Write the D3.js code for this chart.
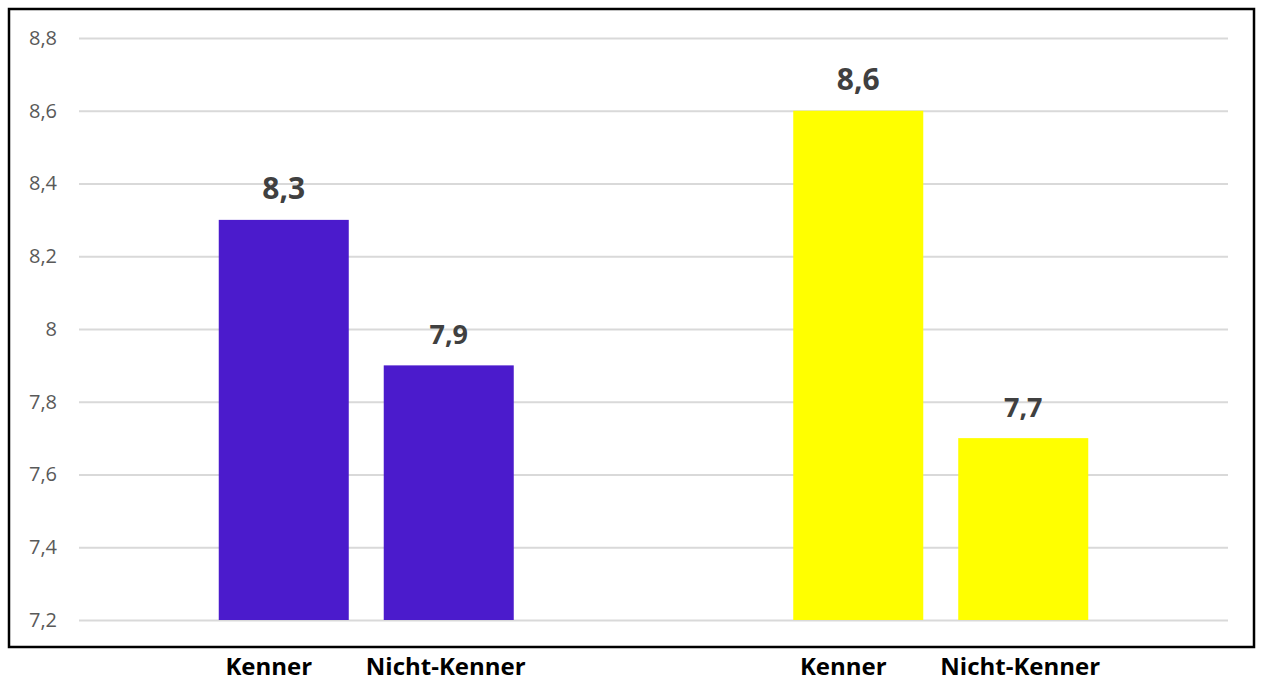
<!DOCTYPE html>
<html>
<head>
    <script src="https://cdn.jsdelivr.net/npm/d3@7/dist/d3.min.js"></script>
    <style>
        html, body {
            padding: 0;
            margin: 0;
            background: #fff;
        }
    </style>
</head>
<body>
<script>
    var width = 1261, height = 681;

    // data
    var groups = ["Gruppe 1", "Gruppe 2"];
    var series = ["Kenner", "Nicht-Kenner"];
    var group1Values = [8.3, 7.9];
    var group2Values = [8.6, 7.7];
    var groupColors = ["#4b1bcc", "#ffff00"];
    var yTicks = [7.2, 7.4, 7.6, 7.8, 8, 8.2, 8.4, 8.6, 8.8];

    var rows = [];
    [group1Values, group2Values].forEach(function (vals, gi) {
        vals.forEach(function (v, si) {
            rows.push({group: groups[gi], series: series[si], value: v, color: groupColors[gi]});
        });
    });

    var svg = d3.select('body').append('svg')
        .attr('width', width)
        .attr('height', height)
        .style('display', 'block');

    // plot box (note: "top" is reserved on window, so prefixed names)
    var plotLeft = 79, plotRight = 1228, plotTop = 38, plotBottom = 620;

    var y = d3.scaleLinear().domain([7.2, 8.8]).range([plotBottom, plotTop]);
    var x0 = d3.scaleBand().domain(groups).range([plotLeft, plotRight]);
    var x1 = d3.scaleBand().domain(series).range([-147.5, 147.5]).paddingInner(0.212);

    var fmt = function (d) { return String(d).replace('.', ','); };
    var barX = function (d) { return x0(d.group) + x0.bandwidth() / 2 + x1(d.series); };

    // frame
    svg.append('rect')
        .attr('x', 9).attr('y', 9)
        .attr('width', 1245).attr('height', 638)
        .attr('fill', 'none')
        .attr('stroke', '#000')
        .attr('stroke-width', 2.5);

    // grid lines + y labels
    var yAxis = d3.axisLeft(y)
        .tickValues(yTicks)
        .tickSize(-(plotRight - plotLeft))
        .tickPadding(22)
        .tickFormat(fmt);

    var ga = svg.append('g')
        .attr('transform', 'translate(' + plotLeft + ',0)')
        .call(yAxis);
    ga.select('.domain').remove();
    ga.selectAll('.tick line')
        .attr('stroke', '#d9d9d9')
        .attr('stroke-width', 2);
    ga.selectAll('.tick text')
        .attr('fill', '#595959')
        .style('font-family', '"Open Sans", sans-serif')
        .style('font-size', '20px');

    // bars
    svg.selectAll('rect.bar')
        .data(rows)
        .enter().append('rect')
        .attr('class', 'bar')
        .attr('x', barX)
        .attr('y', function (d) { return y(d.value); })
        .attr('width', x1.bandwidth())
        .attr('height', function (d) { return y(7.2) - y(d.value); })
        .attr('fill', function (d) { return d.color; });

    // value labels
    svg.selectAll('text.val')
        .data(rows)
        .enter().append('text')
        .attr('class', 'val')
        .attr('x', function (d) { return barX(d) + x1.bandwidth() / 2; })
        .attr('y', function (d) { return y(d.value) - 21; })
        .attr('text-anchor', 'middle')
        .attr('fill', '#404040')
        .style('font-family', '"Open Sans", sans-serif')
        .style('font-weight', 'bold')
        .style('font-size', function (d) { return d.series === 'Kenner' ? '30px' : '27px'; })
        .text(function (d) { return fmt(d.value); });

    // category labels under the frame
    svg.selectAll('text.cat')
        .data(rows)
        .enter().append('text')
        .attr('class', 'cat')
        .attr('x', function (d) { return barX(d) + x1.bandwidth() / 2 - (d.series === 'Kenner' ? 15 : 3); })
        .attr('y', 675)
        .attr('text-anchor', 'middle')
        .attr('fill', '#000')
        .style('font-family', '"Open Sans", sans-serif')
        .style('font-weight', 'bold')
        .style('font-size', '24px')
        .text(function (d) { return d.series; });
</script>
</body>
</html>
